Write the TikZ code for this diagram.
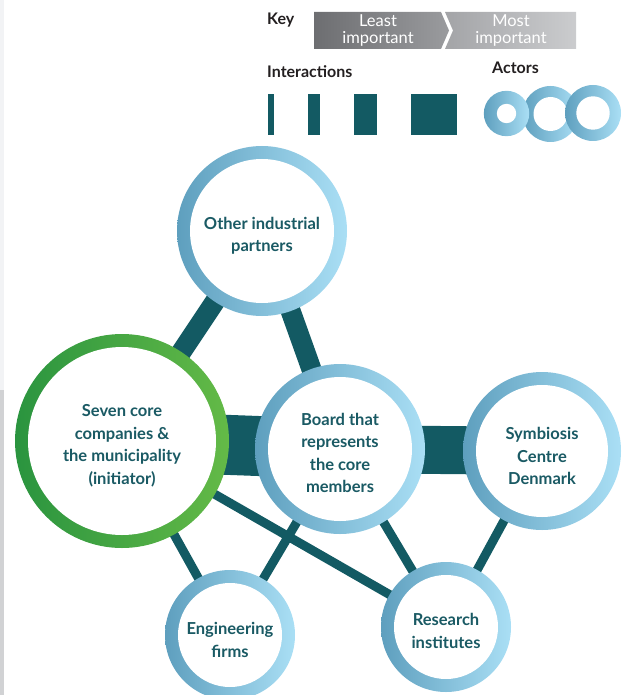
\documentclass[tikz,border=0pt]{standalone}
\usepackage{fontspec}
\setmainfont{Lato}
\usetikzlibrary{backgrounds}
\definecolor{lnk}{HTML}{135A63}
\definecolor{txt}{HTML}{1A5A64}
\definecolor{bL}{HTML}{5E9FBE}
\definecolor{bR}{HTML}{AADFF5}
\definecolor{gL}{HTML}{2A943F}
\definecolor{gR}{HTML}{64BA47}
\definecolor{kaL}{HTML}{6D6E71}
\definecolor{kaR}{HTML}{9A9B9E}
\definecolor{kbL}{HTML}{A3A4A7}
\definecolor{kbR}{HTML}{CBCCCE}
\definecolor{keytxt}{HTML}{231F20}
\definecolor{gsA}{HTML}{F2F3F5}
\definecolor{gsB}{HTML}{D1D2D4}
\tikzset{
  ring/.style n args={4}{circle, inner sep=0pt, minimum size={2*#1pt},
    left color=#2, right color=#3,
    path picture={\fill[white] (path picture bounding box.center) circle ({#1pt-#4pt});}},
  lbl/.style={text=txt, font=\bfseries\fontsize{16.5}{22.5}\selectfont, align=center, inner sep=0pt},
  link/.style={draw=lnk, line width=#1},
  keylabel/.style={text=keytxt, font=\bfseries\fontsize{16}{16}\selectfont, anchor=base west, inner sep=0pt},
  keybar/.style={text=white, font=\fontsize{16.5}{16.5}\selectfont, align=center, inner sep=0pt},
}
\begin{document}
\begin{tikzpicture}[x=1pt, y=-1pt]
\useasboundingbox (0,0) rectangle (628,695);
\fill[gsA] (0,0) rectangle (4,390);
\fill[gsB] (0,390) rectangle (4,695);

% key
\node[keylabel] (keyt) at (267,25) {Key};
\shade[left color=kaL, right color=kaR] (314,12) -- (441,12) -- (449,30.5) -- (441,49) -- (314,49) -- cycle;
\shade[left color=kbL, right color=kbR] (445,12) -- (576,12) -- (576,49) -- (445,49) -- (453,30.5) -- cycle;
\node[keybar] (least) at (378,30.5) {Least\\important};
\node[keybar] (most) at (511,30.5) {Most\\important};
\node[keylabel] (inter) at (267,78) {Interactions};
\node[keylabel] (actors) at (492,74) {Actors};
\fill[lnk] (268,94) rectangle (274,135);
\fill[lnk] (308,94) rectangle (320,135);
\fill[lnk] (354,94) rectangle (377,135);
\fill[lnk] (411,94) rectangle (457,135);
\node[ring={28}{bL}{bR}{11}] (a2) at (550.5,114) {};
\node[ring={22.7}{bL}{bR}{13}] (a1) at (506.5,113.5) {};
\node[ring={28}{bL}{bR}{11.3}] (a3) at (593,113) {};

% actors
\node[ring={85}{bL}{bR}{13}] (other) at (262,231) {};
\node[ring={107}{gL}{gR}{13}] (core) at (122,441) {};
\node[ring={85}{bL}{bR}{13}] (board) at (340,449) {};
\node[ring={79}{bL}{bR}{13}] (sym) at (542,451) {};
\node[ring={65}{bL}{bR}{13}] (eng) at (230,635) {};
\node[ring={65}{bL}{bR}{13}] (res) at (446,627) {};
\node[lbl] (otherT) at ([yshift=-5pt]other.center) {Other industrial\\partners};
\node[lbl] (coreT) at ([yshift=-5pt]core.center) {Seven core\\companies \&\\the municipality\\(initiator)};
\node[lbl] (boardT) at ([yshift=-4pt]board.center) {Board that\\represents\\the core\\members};
\node[lbl] (symT) at ([yshift=-5pt]sym.center) {Symbiosis\\Centre\\Denmark};
\node[lbl] (engT) at ([yshift=-5pt]eng.center) {Engineering\\firms};
\node[lbl] (resT) at ([yshift=-4pt]res.center) {Research\\institutes};

% interactions
\begin{scope}[on background layer]
\draw[link=20] (other.center) -- (core.center);
\draw[link=20] (other.center) -- (board.center);
\draw[link=60] (core.center) -- (board.center);
\draw[link=48] (board.center) -- (sym.center);
\draw[link=9] (core.center) -- (eng.center);
\draw[link=9] (core.center) -- (res.center);
\draw[link=9] (board.center) -- (eng.center);
\draw[link=9] (board.center) -- (res.center);
\draw[link=9] (sym.center) -- (res.center);
\end{scope}
\end{tikzpicture}
\end{document}
